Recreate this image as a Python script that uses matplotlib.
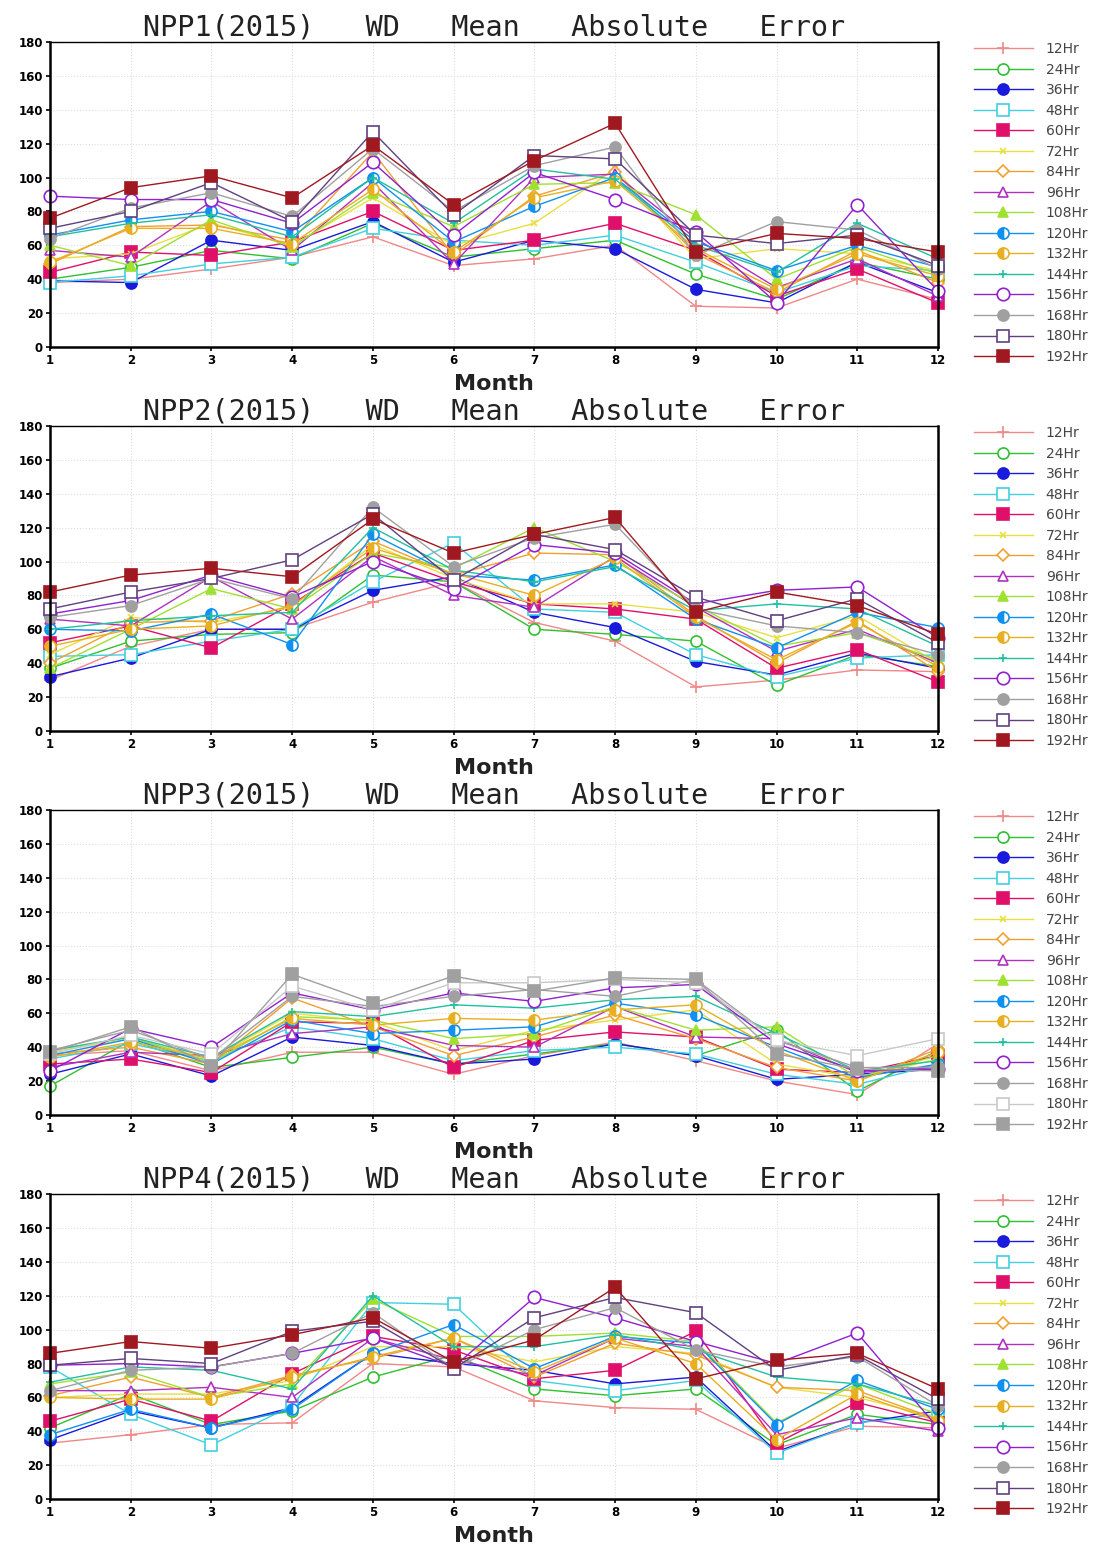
import matplotlib
matplotlib.use("Agg")
import matplotlib.pyplot as plt

months = list(range(1, 13))
leads = ["12Hr", "24Hr", "36Hr", "48Hr", "60Hr", "72Hr", "84Hr", "96Hr",
         "108Hr", "120Hr", "132Hr", "144Hr", "156Hr", "168Hr", "180Hr", "192Hr"]
titles = ["NPP1(2015)", "NPP2(2015)", "NPP3(2015)", "NPP4(2015)"]

# Monthly wind-direction MAE per forecast lead (rows follow `leads`)
npp1 = [
    [38, 40, 46, 53, 65, 48, 52, 60, 24, 23, 40, 28],
    [40, 47, 57, 52, 73, 53, 58, 63, 43, 28, 50, 40],
    [39, 38, 63, 57, 74, 50, 63, 58, 34, 26, 50, 32],
    [38, 42, 49, 53, 70, 63, 60, 66, 50, 32, 48, 45],
    [44, 56, 54, 62, 80, 57, 63, 73, 57, 30, 46, 26],
    [52, 55, 73, 60, 88, 60, 73, 105, 52, 58, 55, 45],
    [49, 71, 72, 63, 115, 54, 89, 103, 55, 32, 57, 38],
    [57, 53, 86, 57, 97, 49, 100, 102, 64, 35, 52, 30],
    [60, 48, 75, 59, 91, 71, 96, 97, 78, 40, 59, 43],
    [66, 75, 80, 68, 100, 62, 83, 100, 62, 45, 60, 47],
    [50, 70, 70, 61, 93, 56, 88, 98, 58, 34, 55, 42],
    [65, 73, 78, 65, 100, 73, 105, 99, 60, 44, 73, 52],
    [89, 87, 87, 73, 109, 66, 103, 87, 68, 26, 84, 33],
    [64, 82, 91, 77, 117, 80, 107, 118, 54, 74, 69, 46],
    [70, 80, 97, 74, 127, 78, 113, 111, 66, 61, 66, 48],
    [76, 94, 101, 88, 119, 84, 110, 132, 56, 67, 64, 56],
]
npp2 = [
    [30, 50, 60, 60, 76, 88, 64, 53, 26, 30, 36, 35],
    [37, 53, 57, 58, 92, 88, 60, 57, 53, 27, 45, 38],
    [32, 43, 60, 60, 83, 91, 70, 61, 41, 33, 46, 37],
    [44, 45, 53, 60, 88, 111, 72, 70, 45, 32, 43, 45],
    [52, 62, 49, 75, 105, 88, 75, 72, 66, 37, 48, 29],
    [45, 67, 64, 73, 110, 90, 75, 75, 70, 55, 68, 40],
    [40, 64, 65, 81, 112, 92, 105, 104, 68, 40, 65, 35],
    [66, 62, 91, 66, 103, 80, 73, 103, 73, 47, 60, 40],
    [37, 60, 84, 72, 105, 96, 120, 100, 74, 50, 58, 42],
    [60, 59, 69, 51, 116, 92, 89, 98, 66, 49, 70, 61],
    [50, 60, 62, 74, 108, 93, 80, 102, 67, 42, 64, 38],
    [60, 65, 68, 70, 120, 95, 88, 97, 71, 75, 72, 50],
    [69, 77, 92, 79, 100, 84, 110, 105, 75, 83, 85, 55],
    [67, 74, 90, 78, 132, 97, 114, 122, 72, 62, 58, 45],
    [72, 82, 90, 101, 128, 89, 116, 107, 79, 65, 78, 52],
    [82, 92, 96, 91, 125, 105, 116, 126, 70, 82, 74, 57],
]
npp3 = [
    [35, 38, 26, 37, 37, 24, 35, 43, 32, 20, 12, 42],
    [17, 44, 28, 34, 40, 30, 36, 42, 35, 50, 14, 38],
    [24, 36, 23, 46, 41, 30, 33, 42, 35, 21, 24, 27],
    [33, 42, 32, 52, 45, 32, 38, 40, 36, 24, 18, 30],
    [30, 33, 25, 55, 54, 28, 44, 49, 46, 27, 25, 35],
    [37, 45, 33, 60, 55, 38, 50, 56, 62, 30, 22, 33],
    [36, 40, 30, 69, 52, 35, 46, 59, 45, 28, 20, 39],
    [28, 37, 35, 48, 52, 41, 40, 64, 46, 45, 25, 28],
    [38, 46, 31, 58, 56, 45, 48, 64, 50, 52, 22, 35],
    [35, 45, 30, 56, 48, 50, 52, 66, 59, 40, 22, 30],
    [34, 43, 33, 57, 53, 57, 56, 62, 65, 38, 20, 37],
    [38, 46, 34, 61, 58, 65, 63, 68, 70, 48, 26, 32],
    [26, 51, 40, 72, 62, 72, 67, 75, 77, 42, 26, 27],
    [38, 50, 33, 70, 64, 70, 74, 70, 80, 44, 28, 28],
    [36, 47, 36, 76, 62, 78, 78, 80, 78, 44, 35, 45],
    [37, 52, 29, 83, 66, 82, 73, 81, 80, 36, 27, 26],
]
npp4 = [
    [33, 38, 44, 45, 80, 78, 58, 54, 53, 30, 43, 42],
    [42, 62, 44, 52, 72, 85, 65, 61, 65, 32, 50, 44],
    [35, 52, 42, 54, 86, 80, 76, 68, 72, 28, 45, 52],
    [78, 50, 32, 55, 116, 115, 70, 64, 70, 27, 45, 50],
    [46, 59, 46, 74, 96, 88, 71, 76, 99, 33, 57, 45],
    [60, 62, 62, 70, 90, 90, 81, 90, 86, 66, 60, 48],
    [61, 72, 60, 73, 83, 95, 72, 92, 85, 66, 64, 47],
    [64, 64, 66, 60, 95, 82, 73, 95, 90, 38, 48, 40],
    [68, 75, 60, 68, 118, 96, 96, 98, 93, 45, 68, 50],
    [38, 53, 42, 53, 86, 103, 77, 96, 92, 44, 70, 53],
    [60, 59, 59, 72, 84, 95, 75, 95, 80, 35, 62, 46],
    [69, 78, 76, 65, 120, 90, 90, 97, 88, 72, 68, 55],
    [79, 80, 78, 86, 95, 78, 119, 107, 93, 80, 98, 42],
    [64, 76, 78, 86, 110, 77, 100, 113, 88, 78, 84, 55],
    [79, 83, 80, 99, 105, 77, 107, 119, 110, 76, 85, 59],
    [86, 93, 89, 97, 107, 81, 94, 125, 71, 82, 86, 65],
]
panels = [npp1, npp2, npp3, npp4]

# line colours and marker styles per lead time
colors = ["#f08888", "#30c030", "#1a1adc", "#40d0e0", "#e0106a", "#e8e040",
          "#f0a030", "#b030c0", "#a0e030", "#1090f0", "#e8b020", "#20c0a0",
          "#9020d0", "#a0a0a0", "#604080", "#a01820"]
# third site uses grey tones for the two longest leads
colors_p3 = colors[:14] + ["#c8c8c8", "#a0a0a0"]
markers = ["+", "o", "o", "s", "s", "x", "D", "^", "^", "o", "o", "+",
           "o", "o", "s", "s"]
filled = [True, False, True, False, True, True, False, False, True,
          "left", "left", True, False, True, False, True]
msizes = [8, 8, 8, 8, 8, 5, 6, 7, 7, 8, 8, 6, 9, 8, 9, 8]

fig = plt.figure(figsize=(11.16, 15.44), dpi=100)
bottoms = [0.7753, 0.5266, 0.2779, 0.0291]
height = 0.1975
left, width = 0.0448, 0.7957

for k, (data, title) in enumerate(zip(panels, titles)):
    ax = fig.add_axes([left, bottoms[k], width, height])
    cols = colors_p3 if k == 2 else colors
    for i, lab in enumerate(leads):
        kw = dict(color=cols[i], lw=1.0, marker=markers[i], ms=msizes[i],
                  mec=cols[i], mew=1.2, label=lab, clip_on=False)
        if filled[i] is True:
            kw["mfc"] = cols[i]
        elif filled[i] is False:
            kw["mfc"] = "white"
        else:
            kw["mfc"] = cols[i]
            kw["fillstyle"] = "left"
            kw["markerfacecoloralt"] = "white"
        ax.plot(months, data[i], **kw)
    ax.set_xlim(1, 12)
    ax.set_ylim(0, 180)
    ax.set_xticks(months)
    ax.set_yticks(range(0, 181, 20))
    ax.tick_params(labelsize=8.5, length=3, width=1.2, pad=2)
    for t in ax.get_xticklabels() + ax.get_yticklabels():
        t.set_fontweight("bold")
    ax.grid(True, color="#dddddd", ls=":", lw=0.8)
    for side in ["left", "bottom", "right"]:
        ax.spines[side].set_linewidth(1.8)
    ax.spines["top"].set_linewidth(1.0)
    ax.set_xlabel("Month", fontsize=16, labelpad=5, fontweight="semibold",
                  color="#222222")
    ax.set_title(title + "   WD   Mean   Absolute   Error", fontsize=20.5,
                 pad=5, color="#222222", family="DejaVu Sans Mono")
    ax.legend(loc="upper left", bbox_to_anchor=(1.04, 1.0), frameon=False,
              fontsize=10, handlelength=4.3, labelspacing=0.47,
              handletextpad=0.9, borderaxespad=0, borderpad=0,
              labelcolor="#444444")

fig.savefig("out.png", dpi=100)
